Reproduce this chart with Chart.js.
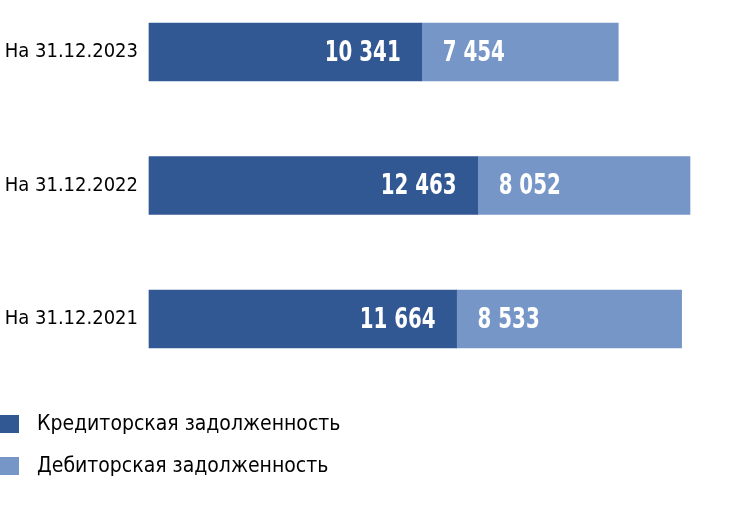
<!DOCTYPE html>
<html>
<head>
<meta charset="utf-8">
<script src="https://cdn.jsdelivr.net/npm/chart.js@4/dist/chart.umd.min.js"></script>
<style>
html,body{margin:0;padding:0;background:#fff;}
#wrap{width:750px;height:531px;position:relative;}
</style>
</head>
<body>
<div id="wrap"><canvas id="c" width="750" height="531"></canvas></div>
<script>
const categories = ['На 31.12.2023', 'На 31.12.2022', 'На 31.12.2021'];
const creditorValues = [10341, 12463, 11664];
const debtorValues = [7454, 8052, 8533];
const seriesNames = ['Кредиторская задолженность', 'Дебиторская задолженность'];

const FONT = '"DejaVu Sans Condensed", "Liberation Sans Narrow", sans-serif';
const DARK = '#325894';
const LIGHT = '#7696c8';

function fmt(v){ return String(v).replace(/\B(?=(\d{3})+(?!\d))/g, ' '); }

const valueLabels = {
  id: 'valueLabels',
  afterDatasetsDraw(chart){
    const ctx = chart.ctx;
    const sx = 0.76;
    chart.data.datasets.forEach((ds, di) => {
      const meta = chart.getDatasetMeta(di);
      meta.data.forEach((bar, i) => {
        const v = ds.data[i];
        ctx.save();
        ctx.fillStyle = '#fff';
        ctx.font = 'bold 29px ' + FONT;
        ctx.textBaseline = 'middle';
        let x;
        if (di === 0) { ctx.textAlign = 'right'; x = bar.x - 21; }
        else { ctx.textAlign = 'left'; x = bar.base + 21; }
        ctx.translate(x, bar.y + 1);
        ctx.scale(sx, 1);
        ctx.fillText(fmt(v), 0, 0);
        ctx.restore();
      });
    });
  }
};

const customLegend = {
  id: 'customLegend',
  afterDraw(chart){
    const ctx = chart.ctx;
    ctx.save();
    ctx.font = '21px ' + FONT;
    ctx.textBaseline = 'middle';
    ctx.textAlign = 'left';
    chart.data.datasets.forEach((ds, i) => {
      const y = 424 + i * 42;
      ctx.fillStyle = ds.backgroundColor;
      ctx.fillRect(0, y - 9, 19, 18);
      ctx.fillStyle = '#000';
      ctx.fillText(ds.label, 37, y + 1);
    });
    ctx.restore();
  }
};

new Chart(document.getElementById('c'), {
  type: 'bar',
  data: {
    labels: categories,
    datasets: [
      { label: seriesNames[0], data: creditorValues, backgroundColor: DARK, barThickness: 58, clip: false },
      { label: seriesNames[1], data: debtorValues, backgroundColor: LIGHT, barThickness: 58, clip: false }
    ]
  },
  options: {
    indexAxis: 'y',
    responsive: false,
    animation: false,
    layout: { padding: { top: 52, bottom: 212, left: 0, right: 60 } },
    plugins: { legend: { display: false }, tooltip: { enabled: false } },
    scales: {
      x: { display: false, stacked: true, min: 0, max: 20515 },
      y: {
        stacked: true,
        offset: false,
        grid: { display: false, drawTicks: false },
        border: { display: false },
        ticks: { color: '#000', font: { family: FONT, size: 20 }, padding: 11 },
        afterFit(scale){ scale.width = 149; }
      }
    }
  },
  plugins: [valueLabels, customLegend]
});
</script>
</body>
</html>
